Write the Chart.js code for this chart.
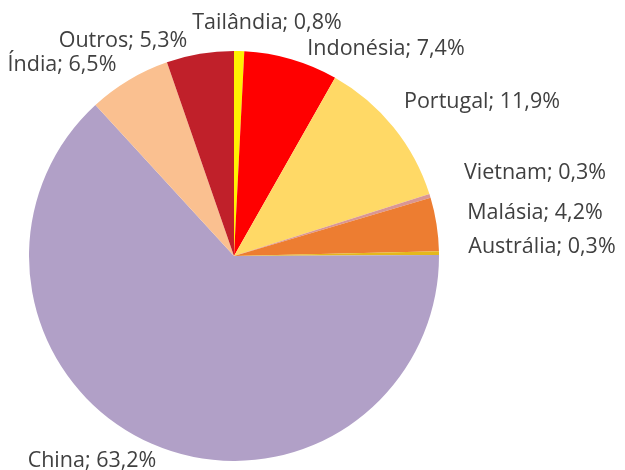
<!DOCTYPE html>
<html>
<head>
<meta charset="utf-8">
<script src="https://cdn.jsdelivr.net/npm/chart.js@4/dist/chart.umd.min.js"></script>
<style>
html,body{margin:0;padding:0;background:#fff;}
#wrap{width:625px;height:470px;position:relative;}
</style>
</head>
<body>
<div id="wrap"><canvas id="c" width="625" height="470"></canvas></div>
<script>
const categories = ["Tailândia", "Indonésia", "Portugal", "Vietnam", "Malásia", "Austrália", "China", "Índia", "Outros"];
const shares = [0.8, 7.4, 11.9, 0.3, 4.2, 0.3, 63.2, 6.5, 5.3];
const valueLabels = ["0,8%", "7,4%", "11,9%", "0,3%", "4,2%", "0,3%", "63,2%", "6,5%", "5,3%"];
const sliceColors = ["#FFF200", "#FF0000", "#FFD966", "#D99694", "#ED7D31", "#E4B81C", "#B1A0C7", "#FAC090", "#C0202A"];

// label anchor positions (text centres) for the data labels
const labelLayout = [
  [267, 23], [386, 49], [482, 102], [535, 173], [535, 213], [542, 247], [92, 461], [62, 65], [123, 41]
];

const labelPlugin = {
  id: 'outLabels',
  afterDatasetsDraw(chart) {
    const ctx = chart.ctx;
    ctx.save();
    ctx.font = '21.5px "Open Sans", sans-serif';
    ctx.fillStyle = '#404040';
    ctx.textAlign = 'center';
    ctx.textBaseline = 'middle';
    chart.data.labels.forEach((lab, i) => {
      const p = labelLayout[i];
      ctx.fillText(lab + '; ' + valueLabels[i], p[0], p[1]);
    });
    ctx.restore();
  }
};

new Chart(document.getElementById('c'), {
  type: 'pie',
  data: {
    labels: categories,
    datasets: [{
      data: shares,
      backgroundColor: sliceColors,
      borderWidth: 0
    }]
  },
  options: {
    responsive: false,
    animation: false,
    layout: { padding: { left: 29, right: 186, top: 51, bottom: 9 } },
    plugins: { legend: { display: false }, tooltip: { enabled: false } }
  },
  plugins: [labelPlugin]
});
</script>
</body>
</html>
